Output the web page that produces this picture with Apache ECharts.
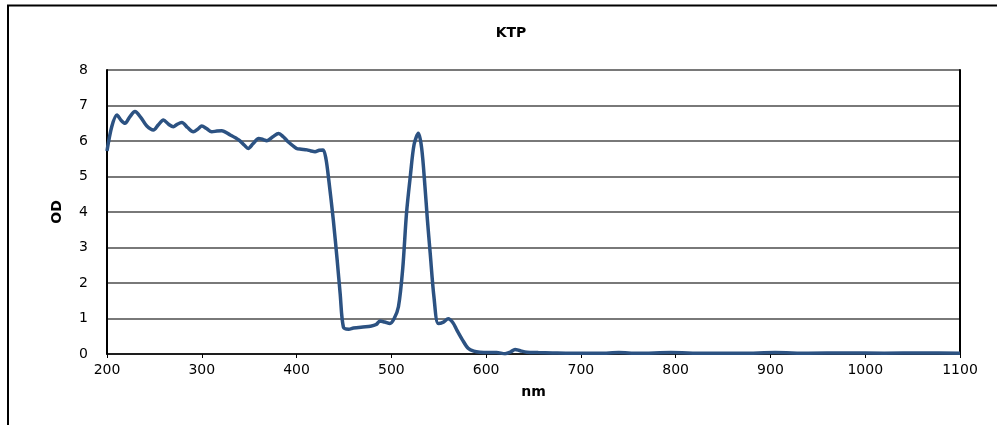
<!DOCTYPE html>
<html>
<head>
<meta charset="utf-8">
<script src="https://cdn.jsdelivr.net/npm/echarts@6/dist/echarts.min.js"></script>
<style>
html,body{margin:0;padding:0;background:#fff;}
#chart{width:997px;height:425px;}
</style>
</head>
<body>
<div id="chart"></div>
<script>
const chartTitle = 'KTP';
const xName = 'nm';
const yName = 'OD';
const xTicks = [200, 300, 400, 500, 600, 700, 800, 900, 1000, 1100];
const yTicks = [0, 1, 2, 3, 4, 5, 6, 7, 8];

const wavelength = [200,205,210.5,215,219,224,229.5,236,242,249,254,259.5,265,270,274,279,285,291,296,300,305,310.5,316,321,330,339,345,349,354,360,365,368.5,375,381,386,391,400,405,411,415,419.5,424,428,431,434,438.8,443,446,449.5,455,460,470,478,484,488,493,498.5,503,507.5,512,516,520,524,528.5,532,535.5,538,541,545,549.5,555,560,565,569,575,581,587,593.5,602,611,620,626,630.5,636,643,655,670,690,720,740,760,795,830,870,905,940,980,1020,1060,1100];
const od = [5.72,6.4,6.73,6.58,6.50,6.68,6.83,6.65,6.42,6.31,6.45,6.59,6.47,6.40,6.47,6.52,6.38,6.26,6.34,6.42,6.35,6.26,6.28,6.29,6.17,6.03,5.88,5.79,5.92,6.07,6.04,6.01,6.12,6.21,6.12,5.98,5.79,5.77,5.75,5.72,5.70,5.74,5.75,5.5,4.9,3.77,2.6,1.7,0.75,0.70,0.73,0.76,0.78,0.83,0.93,0.90,0.86,1.0,1.33,2.4,3.96,5.0,5.9,6.22,5.8,4.71,3.8,2.84,1.6,0.86,0.9,0.99,0.88,0.68,0.4,0.16,0.08,0.05,0.04,0.04,0.01,0.06,0.13,0.09,0.05,0.04,0.03,0.02,0.02,0.04,0.02,0.04,0.02,0.02,0.04,0.02,0.03,0.02,0.03,0.02];

const seriesData = wavelength.map((w, i) => [w, od[i]]);
const font = 'DejaVu Sans';

const chart = echarts.init(document.getElementById('chart'), null, {renderer: 'canvas'});
chart.setOption({
  animation: false,
  backgroundColor: '#ffffff',
  title: {
    text: chartTitle,
    left: 506, top: 21, textAlign: 'center',
    textStyle: {fontFamily: font, fontSize: 14, fontWeight: 'bold', color: '#000'}
  },
  graphic: [{
    type: 'polyline',
    shape: {points: [[8, 430], [8, 5.5], [1000, 5.5]]},
    style: {stroke: '#000', lineWidth: 2, fill: null},
    silent: true
  }],
  grid: {left: 107, right: 37, top: 70, bottom: 71, containLabel: false},
  xAxis: {
    type: 'value',
    min: xTicks[0], max: xTicks[xTicks.length - 1], interval: 100,
    name: xName, nameLocation: 'middle', nameGap: 31,
    nameTextStyle: {fontFamily: font, fontSize: 14, fontWeight: 'bold', color: '#000'},
    axisLine: {show: true, onZero: false, lineStyle: {color: '#000', width: 1.5}},
    axisTick: {show: true, length: 4, lineStyle: {color: '#000', width: 1}},
    axisLabel: {fontFamily: font, fontSize: 14, color: '#000', margin: 9, formatter: v => String(v)},
    splitLine: {show: false}
  },
  yAxis: [{
    type: 'value',
    min: yTicks[0], max: yTicks[yTicks.length - 1], interval: 1,
    name: yName, nameLocation: 'middle', nameGap: 43, nameRotate: 90,
    nameTextStyle: {fontFamily: font, fontSize: 14, fontWeight: 'bold', color: '#000'},
    axisLine: {show: true, lineStyle: {color: '#000', width: 2}},
    axisTick: {show: false},
    axisLabel: {fontFamily: font, fontSize: 14, color: '#000', margin: 19},
    splitLine: {show: true, lineStyle: {color: '#4d4d4d', width: 1.5}}
  }, {
    type: 'value', position: 'right',
    min: yTicks[0], max: yTicks[yTicks.length - 1], interval: 1,
    axisLine: {show: true, lineStyle: {color: '#000', width: 2}},
    axisTick: {show: false}, axisLabel: {show: false}, splitLine: {show: false}
  }],
  series: [{
    type: 'line',
    data: seriesData,
    yAxisIndex: 0,
    smooth: 0.3,
    showSymbol: false,
    lineStyle: {color: '#2c5282', width: 3.5},
    z: 5
  }]
});
</script>
</body>
</html>
